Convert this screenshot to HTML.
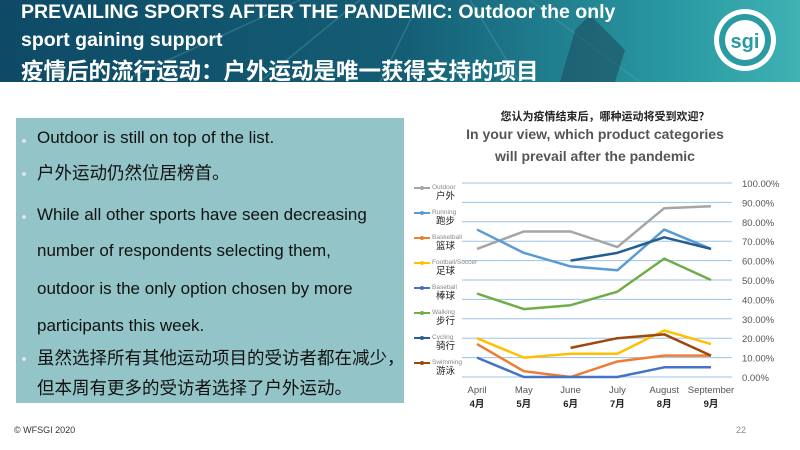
<!DOCTYPE html>
<html><head><meta charset="utf-8">
<style>
body{margin:0;width:800px;height:450px;overflow:hidden;background:#fff;font-family:"Liberation Sans","Noto Sans CJK SC",sans-serif;position:relative}
#hdr{position:absolute;left:0;top:0;width:800px;height:82px;background:linear-gradient(90deg,#0e4a66 0%,#145d74 50%,#2a9aa3 85%,#3fb2b4 100%);overflow:hidden}
.ht{position:absolute;left:21px;color:#fff;font-weight:bold;white-space:nowrap;transform-origin:0 0}
#panel{position:absolute;left:16px;top:118px;width:388px;height:285px;background:#93c5c8}
.ln{position:absolute;left:37px;font-size:17px;color:#111;white-space:nowrap;transform-origin:0 0}
.cn{font-size:17.5px}
.bl{position:absolute;left:22px;width:4px;height:4px;border-radius:2px;background:#d8e8e8}
.foot{position:absolute;font-size:9px;color:#333}
</style></head><body>
<div id="hdr">
<svg width="800" height="82" style="position:absolute;left:0;top:0">
<g stroke="#5aa7b8" stroke-opacity="0.35" stroke-width="1.5"><line x1="120" y1="82" x2="300" y2="0"/><line x1="260" y1="82" x2="360" y2="0"/><line x1="380" y1="82" x2="420" y2="0"/><line x1="520" y1="82" x2="470" y2="0"/><line x1="640" y1="82" x2="530" y2="0"/></g>
<path d="M560 82 L575 30 L590 15 L605 30 L625 50 L615 82Z" fill="#1d4f60" opacity="0.6"/>
<circle cx="745" cy="40" r="31" fill="#fff"/><circle cx="745" cy="40" r="26" fill="#2a9aa3"/><circle cx="745" cy="40" r="20" fill="#fff"/>
<text x="745" y="48" text-anchor="middle" font-size="20" font-weight="bold" fill="#2a9aa3" font-family="Liberation Sans">sgi</text>
</svg>
<div class="ht" style="top:1px;font-size:19.5px">PREVAILING SPORTS AFTER THE PANDEMIC: Outdoor the only</div>
<div class="ht" style="top:29px;font-size:19.5px">sport gaining support</div>
<div class="ht" style="top:54px;font-size:22.5px">疫情后的流行运动：户外运动是唯一获得支持的项目</div>
</div>
<div id="panel"></div>
<div class="bl" style="top:139px"></div><div class="ln" style="top:128px">Outdoor is still on top of the list.</div>
<div class="bl" style="top:172px"></div><div class="ln cn" style="top:160px">户外运动仍然位居榜首。</div>
<div class="bl" style="top:215px"></div><div class="ln" style="top:205px">While all other sports have seen decreasing</div>
<div class="ln" style="top:241px">number of respondents selecting them,</div>
<div class="ln" style="top:279px">outdoor is the only option chosen by more</div>
<div class="ln" style="top:316px">participants this week.</div>
<div class="bl" style="top:357px"></div><div class="ln cn" style="top:345px">虽然选择所有其他运动项目的受访者都在减少，</div>
<div class="ln cn" style="top:375px">但本周有更多的受访者选择了户外运动。</div>
<div class="foot" style="left:14px;top:425px">© WFSGI 2020</div>
<div class="foot" style="left:736px;top:425px;color:#888">22</div>

<svg id="chart" width="800" height="450" style="position:absolute;left:0;top:0">
<text x="605" y="120" text-anchor="middle" font-size="11" font-weight="bold" fill="#222">您认为疫情结束后，哪种运动将受到欢迎？</text>
<text x="595" y="139" text-anchor="middle" font-size="14" font-weight="bold" fill="#555">In your view, which product categories</text>
<text x="595" y="161" text-anchor="middle" font-size="14" font-weight="bold" fill="#555">will prevail after the pandemic</text>
<g id="grid"></g><g id="lines"></g><g id="legend"></g><g id="axes"></g>
</svg>
<script>
const months=["April","May","June","July","August","September"];
const monthsCn=["4月","5月","6月","7月","8月","9月"];
const yTicks=[0,10,20,30,40,50,60,70,80,90,100];
const seriesNames=["Outdoor","Running","Basketball","Football/Soccer","Baseball","Walking","Cycling","Swimming"];
const seriesCn=["户外","跑步","篮球","足球","棒球","步行","骑行","游泳"];
const seriesColors=["#a5a5a5","#5b9bd5","#ed7d31","#ffc000","#4472c4","#70ad47","#255e91","#9e480e"];
const outdoor=[66,75,75,67,87,88];
const running=[76,64,57,55,76,66];
const basketball=[17,3,0,8,11,11];
const football=[20,10,12,12,24,17];
const baseball=[10,0,0,0,5,5];
const walking=[43,35,37,44,61,50];
const cycling=[null,null,60,64,72,66];
const swimming=[null,null,15,20,22,11];
const allSeries=[outdoor,running,basketball,football,baseball,walking,cycling,swimming];
const NS="http://www.w3.org/2000/svg";
function x(i){return 477+i*46.8;}
function y(v){return 377-v*1.94;}
function mk(tag,attrs,parent){const e=document.createElementNS(NS,tag);for(const k in attrs)e.setAttribute(k,attrs[k]);parent.appendChild(e);return e;}
const grid=document.getElementById('grid'),lines=document.getElementById('lines'),legend=document.getElementById('legend'),axes=document.getElementById('axes');
yTicks.forEach(t=>{
 const l=mk('line',{x1:462,x2:732,y1:y(t),y2:y(t),stroke:'#9dc3e6','stroke-width':1},grid);
 
 
 const tx=mk('text',{x:742,y:y(t)+4,'font-size':9.5,fill:'#555'},axes);
 tx.textContent=t.toFixed(2)+'%';
 
 
});
months.forEach((m,i)=>{
 const a=mk('text',{x:x(i),y:393,'text-anchor':'middle','font-size':9.5,fill:'#555'},axes);
 a.textContent=m;
 
 
 const b=mk('text',{x:x(i),y:407,'text-anchor':'middle','font-size':9.5,'font-weight':'bold',fill:'#222'},axes);
 b.textContent=monthsCn[i];
 
 
});
allSeries.forEach((s,k)=>{
 let pts=[];s.forEach((v,i)=>{if(v!==null)pts.push(x(i)+','+y(v));});
 const p=mk('polyline',{points:pts.join(' '),fill:'none',stroke:seriesColors[k],'stroke-width':2.5,'stroke-linejoin':'round'},lines);
 
 
 const ly=188+k*25;
 const ll=mk('line',{x1:414,x2:430,y1:ly,y2:ly,stroke:seriesColors[k],'stroke-width':2},legend);
 
 
 mk('circle',{cx:422,cy:ly,r:2,fill:seriesColors[k]},legend);
 const t1=mk('text',{x:432,y:ly+1,'font-size':6.5,fill:'#888'},legend);
 t1.textContent=seriesNames[k];
 
 
 const t2=mk('text',{x:436,y:ly+11,'font-size':9.5,fill:'#222'},legend);
 t2.textContent=seriesCn[k];
 
 
});
</script>
</body></html>
